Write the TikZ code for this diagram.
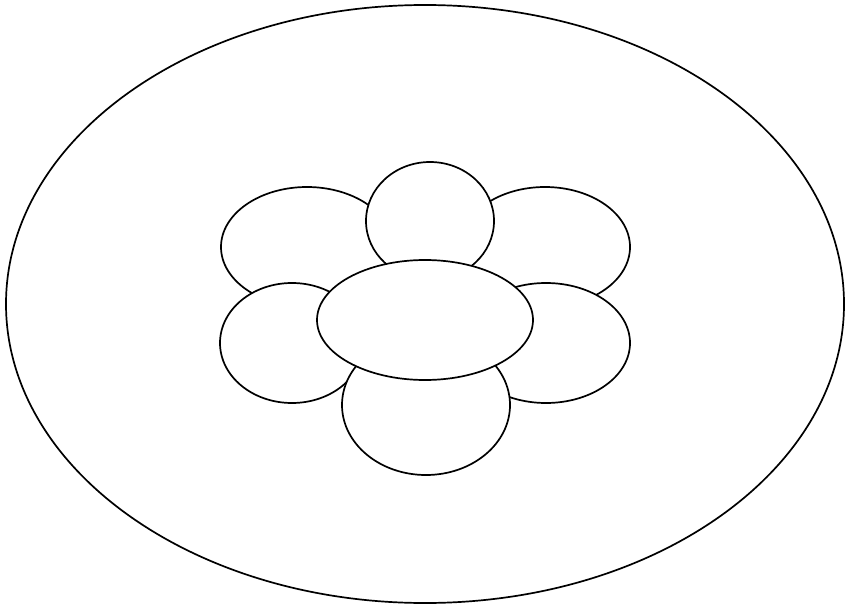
\documentclass[tikz,border=0pt]{standalone}
\usepackage{tikz}
\usetikzlibrary{positioning}

\begin{document}
\begin{tikzpicture}[x=1pt,y=-1pt,line width=1.7pt,
  petal/.style={draw,fill=white}]
  \useasboundingbox (0,0) rectangle (845,607);
  \draw (425,304) ellipse (419 and 299);
  \draw[petal] (307,247) ellipse (86 and 60);
  \draw[petal] (545,247) ellipse (85 and 60);
  \draw[petal] (430,221) ellipse (64 and 59);
  \draw[petal] (292,343) ellipse (72 and 60);
  \draw[petal] (546,343) ellipse (84 and 60);
  \draw[petal] (426,405) ellipse (84 and 70);
  \draw[petal] (425,320) ellipse (108 and 60);
\end{tikzpicture}
\end{document}
